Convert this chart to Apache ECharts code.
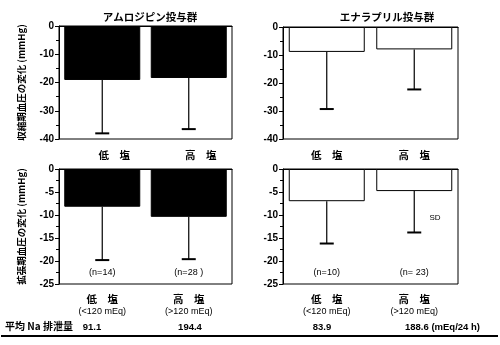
<!DOCTYPE html>
<html>
<head>
<meta charset="utf-8">
<script src="https://cdn.jsdelivr.net/npm/echarts@6.0.0/dist/echarts.min.js"></script>
<style>html,body{margin:0;padding:0;background:#fff;}#c{width:500px;height:345px;}</style>
</head>
<body>
<div id="c"></div>
<script>
// ---- data ----
const categories = ['低　塩', '高　塩'];
const categorySub = ['(<120 mEq)', '(>120 mEq)'];
const groupTitles = ['アムロジピン投与群', 'エナラプリル投与群'];
const yNames = ['収縮期血圧の変化 (mmHg)', '拡張期血圧の変化 (mmHg)'];
// systolic change (mean) and SD
const amlSys = [-19.1, -18.4];
const amlSysSD = [18.9, 18.1];
const enaSys = [-8.9, -8.0];
const enaSysSD = [20.4, 14.3];
// diastolic change (mean) and SD
const amlDia = [-8.2, -10.4];
const amlDiaSD = [11.6, 9.2];
const enaDia = [-7.0, -4.8];
const enaDiaSD = [9.2, 9.0];
const amlN = ['(n=14)', '(n=28 )'];
const enaN = ['(n=10)', '(n= 23)'];
const nLabelValue = -22.6;
const naLabel = '平均 Na 排泄量';
const naExcretion = ['91.1', '194.4', '83.9', '188.6 (mEq/24 h)'];

const CJK = '"Noto Sans CJK JP", "Liberation Sans", sans-serif';
const NUM = '"Liberation Sans", Arial, sans-serif';

const chart = echarts.init(document.getElementById('c'), null, {renderer: 'canvas'});

const grids = [
  {left: 59, top: 26, width: 173, height: 113},
  {left: 283, top: 27, width: 175, height: 112},
  {left: 59, top: 169, width: 173, height: 115},
  {left: 283, top: 169, width: 175, height: 115}
];

function xAxisFor(i) {
  const bottomRow = i >= 2;
  const leftCol = i % 2 === 0;
  return {
    type: 'category', gridIndex: i, data: categories, position: 'bottom',
    axisLine: {show: true, lineStyle: {color: '#000', width: 1}},
    axisTick: {show: false},
    axisLabel: {
      show: true, margin: bottomRow ? 9 : 10,
      color: '#000', interval: 0,
      formatter: function (v, idx) {
        return bottomRow ? '{a|' + v + '}\n{b|' + categorySub[idx] + '}' : '{a|' + v + '}';
      },
      rich: {
        a: {fontFamily: CJK, fontSize: 10.5, fontWeight: 'bold', color: '#000', lineHeight: 13,
            padding: (!bottomRow && leftCol) ? [0, 0, 0, 24] : [0, 0, 0, 0]},
        b: {fontFamily: NUM, fontSize: 9, color: '#000', lineHeight: 12}
      }
    }
  };
}

function yAxisFor(i) {
  const bottomRow = i >= 2;
  const leftCol = i % 2 === 0;
  return {
    type: 'value', gridIndex: i,
    min: bottomRow ? -25 : -40, max: 0, interval: bottomRow ? 5 : 10,
    name: leftCol ? yNames[bottomRow ? 1 : 0] : '',
    nameLocation: 'middle', nameRotate: 90, nameGap: 33,
    nameTextStyle: {fontFamily: CJK, fontSize: 9.5, color: '#000', fontWeight: 'bold'},
    axisLine: {show: true, lineStyle: {color: '#000', width: 1}},
    axisTick: {show: true, length: 4, lineStyle: {color: '#000'}},
    minorTick: {show: true, splitNumber: 2, length: 3, lineStyle: {color: '#000'}},
    splitLine: {show: false},
    axisLabel: {color: '#000', fontFamily: NUM, fontSize: 10, fontWeight: 'bold', margin: 5}
  };
}

function errRender(params, api) {
  const x = api.value(0);
  const p1 = api.coord([x, api.value(1)]);
  const p2 = api.coord([x, api.value(2)]);
  const hw = 7;
  return {
    type: 'group',
    children: [
      {type: 'line', shape: {x1: p1[0], y1: p1[1], x2: p2[0], y2: p2[1]}, style: {stroke: '#000', lineWidth: 1.2}},
      {type: 'line', shape: {x1: p2[0] - hw, y1: p2[1], x2: p2[0] + hw, y2: p2[1]}, style: {stroke: '#000', lineWidth: 2}}
    ]
  };
}

function textRender(params, api) {
  const p = api.coord([api.value(0), api.value(1)]);
  return {
    type: 'text', x: p[0], y: p[1],
    style: {text: api.value(2), align: 'center', verticalAlign: 'middle',
            fontFamily: NUM, fontSize: 9, fill: '#000'}
  };
}

const panels = [
  {mean: amlSys, sd: amlSysSD, fill: '#000', n: null},
  {mean: enaSys, sd: enaSysSD, fill: '#fff', n: null},
  {mean: amlDia, sd: amlDiaSD, fill: '#000', n: amlN},
  {mean: enaDia, sd: enaDiaSD, fill: '#fff', n: enaN}
];

const series = [];
panels.forEach(function (p, i) {
  series.push({
    type: 'bar', xAxisIndex: i, yAxisIndex: i, data: p.mean, barWidth: 76,
    itemStyle: {color: p.fill, borderColor: '#000', borderWidth: 1},
    silent: true, z: 2
  });
  series.push({
    type: 'custom', xAxisIndex: i, yAxisIndex: i, renderItem: errRender, z: 3,
    data: p.mean.map(function (m, k) { return [k, m, m - p.sd[k]]; }),
    encode: {x: 0, y: [1, 2]}
  });
  if (p.n) {
    series.push({
      type: 'custom', xAxisIndex: i, yAxisIndex: i, renderItem: textRender, z: 4,
      data: p.n.map(function (t, k) { return [k, nLabelValue, t]; }),
      encode: {x: 0, y: 1}
    });
  }
});

const option = {
  animation: false,
  backgroundColor: '#fff',
  title: [
    {text: groupTitles[0], left: 145, top: 7, textAlign: 'center',
     textStyle: {fontFamily: CJK, fontSize: 10.5, fontWeight: 'bold', color: '#000'}},
    {text: groupTitles[1], left: 382, top: 7, textAlign: 'center',
     textStyle: {fontFamily: CJK, fontSize: 10.5, fontWeight: 'bold', color: '#000'}}
  ],
  grid: grids.map(function (g) {
    return Object.assign({show: true, borderColor: '#000', borderWidth: 1, backgroundColor: 'transparent'}, g);
  }),
  xAxis: [0, 1, 2, 3].map(xAxisFor),
  yAxis: [0, 1, 2, 3].map(yAxisFor),
  series: series,
  graphic: [
    {type: 'text', left: 5, top: 321, style: {text: naLabel, fontFamily: CJK, fontSize: 10, fontWeight: 'bold', fill: '#000'}},
    {type: 'text', x: 92, y: 327, style: {text: naExcretion[0], align: 'center', verticalAlign: 'middle', fontFamily: NUM, fontSize: 9.5, fontWeight: 'bold', fill: '#000'}},
    {type: 'text', x: 190, y: 327, style: {text: naExcretion[1], align: 'center', verticalAlign: 'middle', fontFamily: NUM, fontSize: 9.5, fontWeight: 'bold', fill: '#000'}},
    {type: 'text', x: 322, y: 327, style: {text: naExcretion[2], align: 'center', verticalAlign: 'middle', fontFamily: NUM, fontSize: 9.5, fontWeight: 'bold', fill: '#000'}},
    {type: 'text', x: 405, y: 327, style: {text: naExcretion[3], align: 'left', verticalAlign: 'middle', fontFamily: NUM, fontSize: 9.5, fontWeight: 'bold', fill: '#000'}},
    {type: 'text', x: 435, y: 218, style: {text: 'SD', align: 'center', verticalAlign: 'middle', fontFamily: NUM, fontSize: 8, fill: '#000'}},
    {type: 'line', shape: {x1: 1, y1: 336, x2: 498, y2: 336}, style: {stroke: '#000', lineWidth: 2}}
  ]
};

chart.setOption(option);
</script>
</body>
</html>
